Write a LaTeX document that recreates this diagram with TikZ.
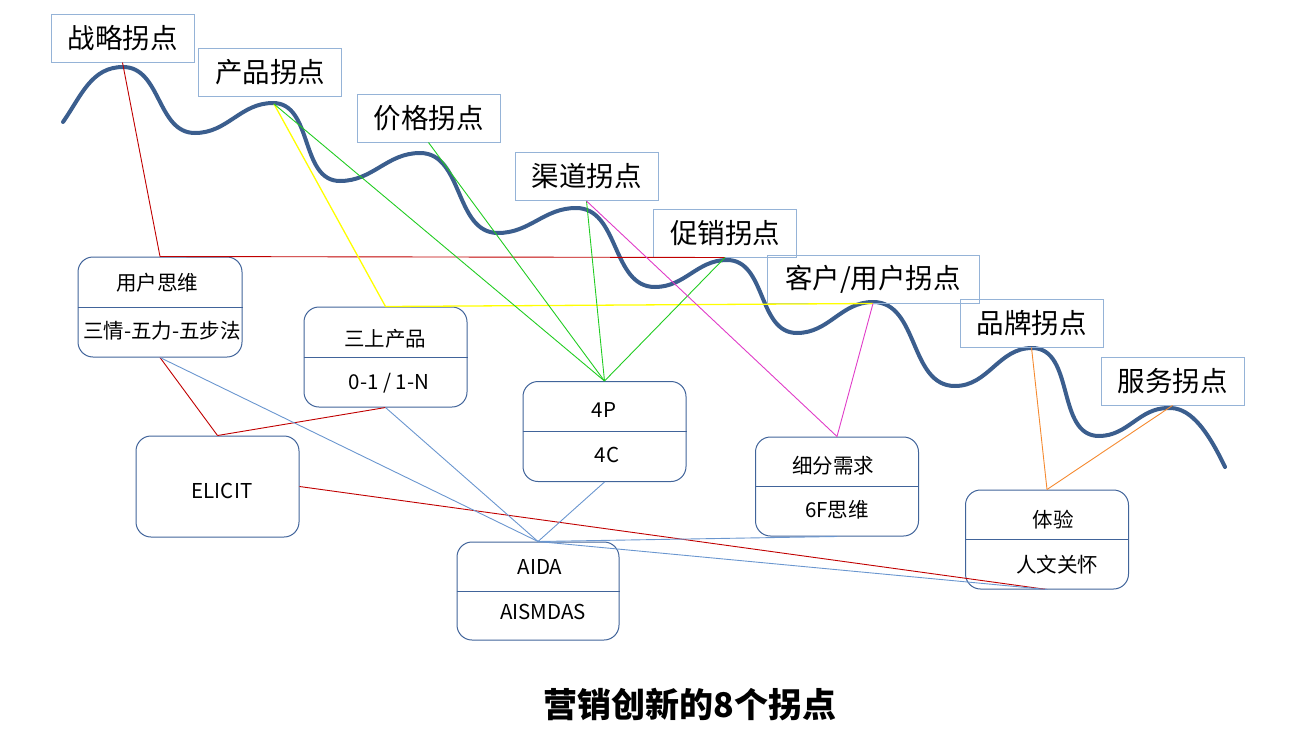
\documentclass[tikz,border=0pt]{standalone}
\usepackage{fontspec}
\setmainfont{Noto Sans CJK SC}
\definecolor{lblue}{HTML}{95B3D7}
\definecolor{bblue}{HTML}{41649A}
\definecolor{curveblue}{HTML}{3B5E8E}
\definecolor{lineblue}{HTML}{6A96CF}
\definecolor{lred}{HTML}{C00000}
\definecolor{lgreen}{HTML}{22CC22}
\definecolor{lyellow}{HTML}{FFFF00}
\definecolor{lmag}{HTML}{E03CC8}
\definecolor{lorange}{HTML}{F58A30}
\begin{document}
\begin{tikzpicture}[x=1pt,y=-1pt,
  lbl/.style={draw=lblue, line width=1pt, minimum width=143pt, minimum height=48pt, inner sep=0pt, font=\fontsize{27.5}{30}\selectfont},
  rbox/.style={draw=bblue, line width=1pt, rounded corners=15pt, minimum width=163pt, minimum height=100pt, inner sep=0pt},
  btxt/.style={font=\fontsize{20.5}{24}\selectfont, inner sep=0pt},
  conn/.style={line width=0.9pt},
  curvestyle/.style={draw=curveblue, line width=4pt, line cap=round}
 ]
\useasboundingbox (0,0) rectangle (1309,744);

% main curve
\draw[curvestyle] (63,122) to[out=55,in=180] (123,67) to[out=0,in=180] (195,133)
  to[out=0,in=180] (273,103) to[out=0,in=180] (340,181)
  to[out=0,in=180] (420,153) to[out=0,in=180] (498,233)
  to[out=0,in=180] (576,208) to[out=0,in=180] (655,287)
  to[out=0,in=180] (727,260) to[out=0,in=180] (797,333)
  to[out=0,in=180] (873,302) to[out=0,in=180] (955,386)
  to[out=0,in=180] (1032,348) to[out=0,in=180] (1099,436)
  to[out=0,in=180] (1168,408) .. controls (1188,407) and (1205,425) .. (1225,467);
\coordinate (p2) at (274,104);

% label boxes
\node[lbl] (zl) at (122.5,38) {战略拐点};
\node[lbl] (chanpin) at (270,72) {产品拐点};
\node[lbl] (jiage) at (428.5,118) {价格拐点};
\node[lbl] (qudao) at (586.5,176.5) {渠道拐点};
\node[lbl] (cuxiao) at (725,233) {促销拐点};
\node[lbl, minimum width=212pt] (kehu) at (873,279) {客户/用户拐点};
\node[lbl] (pinpai) at (1031.5,323) {品牌拐点};
\node[lbl] (fuwu) at (1172.5,381) {服务拐点};

% rounded boxes
\node[rbox, minimum width=164pt] (user) at (160,307) {};
\draw[bblue, line width=1pt] (user.west) -- (user.east);
\node[btxt] (user-t) at (157,283) {用户思维};
\node[btxt] (user-b) at (162,331) {三情-五力-五步法};

\node[rbox] (sanshang) at (385.5,357) {};
\draw[bblue, line width=1pt] (sanshang.west) -- (sanshang.east);
\node[btxt] (sanshang-t) at (385,339) {三上产品};
\node[btxt] (sanshang-b) at (389,383) {0-1 / 1-N};

\node[rbox, minimum height=101pt] (elicit) at (217.5,486.5) {};
\node[btxt] (elicit-t) at (222,491) {ELICIT};

\node[rbox] (fourp) at (604.5,431.5) {};
\draw[bblue, line width=1pt] (fourp.west) -- (fourp.east);
\node[btxt] (fourp-t) at (604,410) {4P};
\node[btxt] (fourp-b) at (607,455) {4C};

\node[rbox, minimum width=162pt, minimum height=98pt] (aida) at (538,591) {};
\draw[bblue, line width=1pt] (aida.west) -- (aida.east);
\node[btxt] (aida-t) at (540,567) {AIDA};
\node[btxt] (aida-b) at (543,612) {AISMDAS};

\node[rbox, minimum height=99pt] (xifen) at (837,486.5) {};
\draw[bblue, line width=1pt] (xifen.west) -- (xifen.east);
\node[btxt] (xifen-t) at (833,466) {细分需求};
\node[btxt] (xifen-b) at (837,510) {6F思维};

\node[rbox, minimum height=99pt] (tiyan) at (1047,539.5) {};
\draw[bblue, line width=1pt] (tiyan.west) -- (tiyan.east);
\node[btxt] (tiyan-t) at (1053,520) {体验};
\node[btxt] (tiyan-b) at (1057,565) {人文关怀};

% connectors
\draw[conn, lred] (zl.south) -- (user.north);
\draw[conn, lred] (user.north) -- (cuxiao.south);
\draw[conn, lred] (user.south) -- (elicit.north);
\draw[conn, lred] (elicit.north) -- (sanshang.south);
\draw[conn, lred] (elicit.east) -- (tiyan.south);

\draw[conn, lineblue] (user.south) -- (aida.north);
\draw[conn, lineblue] (sanshang.south) -- (aida.north);
\draw[conn, lineblue] (fourp.south) -- (aida.north);
\draw[conn, lineblue] (aida.north) -- (xifen.south);
\draw[conn, lineblue] (aida.north) -- (tiyan.south);

\draw[conn, lyellow, line width=1.3pt] (p2) -- (sanshang.north) -- (kehu.south);

\draw[conn, lgreen] (p2) -- (fourp.north);
\draw[conn, lgreen] (jiage.south) -- (fourp.north);
\draw[conn, lgreen] (qudao.south) -- (fourp.north);
\draw[conn, lgreen] (cuxiao.south) -- (fourp.north);

\draw[conn, lmag] (qudao.south) -- (xifen.north);
\draw[conn, lmag] (kehu.south) -- (xifen.north);

\draw[conn, lorange] (pinpai.south) -- (tiyan.north);
\draw[conn, lorange] (fuwu.south) -- (tiyan.north);

% title
\node[font=\fontsize{34}{37}\selectfont\bfseries, inner sep=0pt] (title) at (690,705) {营销创新的8个拐点};
\end{tikzpicture}
\end{document}
